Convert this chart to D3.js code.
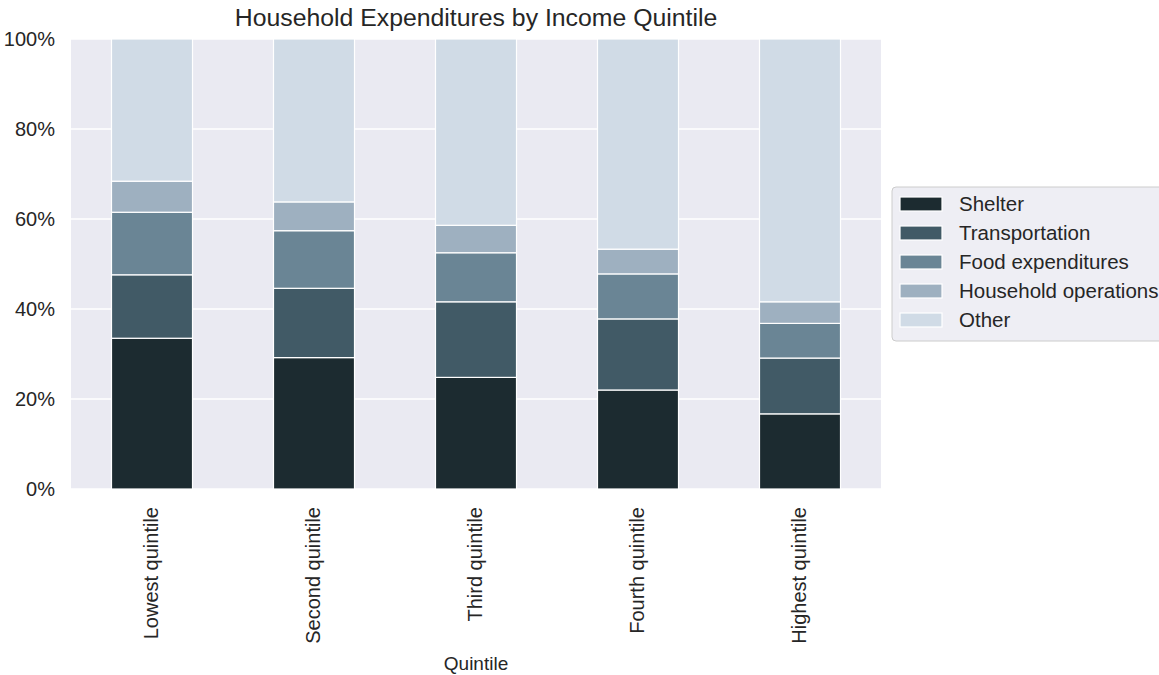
<!DOCTYPE html>
<html>
<head>
<meta charset="utf-8">
<script src="https://cdn.jsdelivr.net/npm/d3@7"></script>
<style>
	body { margin: 0; background: #fff; }
	text { font-family: "Liberation Sans", Arial, sans-serif; fill: #262626; }
</style>
</head>
<body>
<div id="figure"></div>
<script>
const quintiles = ['Lowest quintile', 'Second quintile', 'Third quintile', 'Fourth quintile', 'Highest quintile']
const series = ['Shelter', 'Transportation', 'Food expenditures', 'Household operations', 'Other']
const shelter = [33.5, 29.2, 24.8, 22.0, 16.7]
const transportation = [14.1, 15.4, 16.8, 15.8, 12.4]
const food = [13.9, 12.8, 10.9, 10.0, 7.7]
const household = [6.9, 6.4, 6.1, 5.5, 4.8]
const other = [31.6, 36.2, 41.4, 46.7, 58.4]
const yTicks = [0, 0.2, 0.4, 0.6, 0.8, 1]
const colors = ['#1c2b30', '#415a66', '#6a8595', '#9eb0c0', '#d0dbe6']

const rows = quintiles.map((q, i) => ({
	quintile: q,
	'Shelter': shelter[i] / 100,
	'Transportation': transportation[i] / 100,
	'Food expenditures': food[i] / 100,
	'Household operations': household[i] / 100,
	'Other': other[i] / 100
}))

const width = 1159
const height = 675
const plotLeft = 71, plotRight = 881, plotTop = 39, plotBottom = 489

const svg = d3.select('#figure')
	.append('svg')
	.attr('width', width)
	.attr('height', height)

const x = d3.scaleBand()
	.domain(quintiles)
	.range([plotLeft, plotRight])
	.paddingInner(0.5)
	.paddingOuter(0.25)

const y = d3.scaleLinear()
	.domain([0, 1])
	.range([plotBottom, plotTop])

const color = d3.scaleOrdinal().domain(series).range(colors)

// plot background
svg.append('rect')
	.attr('x', plotLeft)
	.attr('y', plotTop)
	.attr('width', plotRight - plotLeft)
	.attr('height', plotBottom - plotTop)
	.attr('fill', '#eaeaf2')

// grid
svg.append('g')
	.selectAll('line')
	.data(yTicks)
	.enter()
	.append('line')
	.attr('x1', plotLeft)
	.attr('x2', plotRight)
	.attr('y1', d => y(d))
	.attr('y2', d => y(d))
	.attr('stroke', '#fff')
	.attr('stroke-width', 1.5)

svg.append('g')
	.selectAll('line')
	.data(quintiles)
	.enter()
	.append('line')
	.attr('x1', d => x(d) + x.bandwidth() / 2)
	.attr('x2', d => x(d) + x.bandwidth() / 2)
	.attr('y1', plotTop)
	.attr('y2', plotBottom)
	.attr('stroke', '#fff')
	.attr('stroke-width', 1.5)

// stacked bars
const stacked = d3.stack().keys(series)(rows)

svg.append('g')
	.selectAll('g')
	.data(stacked)
	.enter()
	.append('g')
	.attr('fill', d => color(d.key))
	.selectAll('rect')
	.data(d => d)
	.enter()
	.append('rect')
	.attr('x', d => x(d.data.quintile))
	.attr('y', d => y(d[1]))
	.attr('width', x.bandwidth())
	.attr('height', d => y(d[0]) - y(d[1]))
	.attr('stroke', '#fff')
	.attr('stroke-width', 1.2)

// y axis
const yAxis = svg.append('g')
	.attr('transform', `translate(${plotLeft}, 0)`)
	.call(d3.axisLeft(y).tickValues(yTicks).tickFormat(d3.format('.0%')).tickSize(0).tickPadding(16))
yAxis.select('.domain').remove()
yAxis.selectAll('text')
	.attr('font-size', 20)
	.style('font-family', '"Liberation Sans", Arial, sans-serif')
	.attr('fill', '#262626')

// x axis
const xAxis = svg.append('g')
	.attr('transform', `translate(0, ${plotBottom})`)
	.call(d3.axisBottom(x).tickSize(0))
xAxis.select('.domain').remove()
xAxis.selectAll('text')
	.attr('font-size', 20)
	.style('font-family', '"Liberation Sans", Arial, sans-serif')
	.attr('fill', '#262626')
	.attr('text-anchor', 'end')
	.attr('dy', '0.35em')
	.attr('transform', 'translate(-1, 18) rotate(-90)')
	.attr('y', 0)
	.attr('x', 0)

// title
svg.append('text')
	.attr('x', (plotLeft + plotRight) / 2)
	.attr('y', 26)
	.attr('text-anchor', 'middle')
	.attr('font-size', 24.8)
	.text('Household Expenditures by Income Quintile')

svg.append('text')
	.attr('x', (plotLeft + plotRight) / 2)
	.attr('y', 670)
	.attr('text-anchor', 'middle')
	.attr('font-size', 19)
	.text('Quintile')

// legend
const legend = svg.append('g')
legend.append('rect')
	.attr('x', 892)
	.attr('y', 187)
	.attr('width', 290)
	.attr('height', 154)
	.attr('rx', 4)
	.attr('fill', '#eeeef4')
	.attr('stroke', '#cccccc')

const item = legend.selectAll('g.item')
	.data(series)
	.enter()
	.append('g')
	.attr('transform', (d, i) => `translate(0, ${204 + i * 29})`)

item.append('rect')
	.attr('x', 900)
	.attr('y', -7)
	.attr('width', 42)
	.attr('height', 14)
	.attr('fill', d => color(d))
	.attr('stroke', '#fff')
	.attr('stroke-width', 1.2)

item.append('text')
	.attr('x', 959)
	.attr('y', 0)
	.attr('dy', '0.35em')
	.attr('font-size', 20.5)
	.text(d => d)
</script>
</body>
</html>
